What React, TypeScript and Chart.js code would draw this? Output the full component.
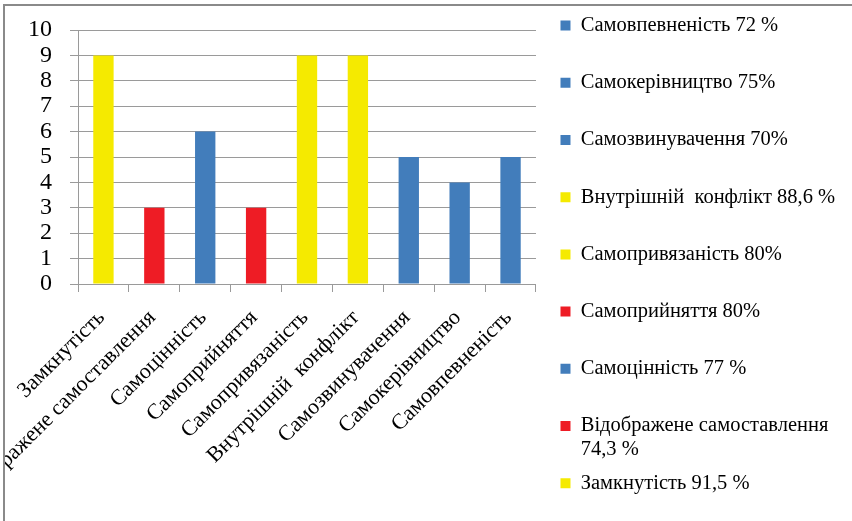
import React, { useEffect, useRef } from "react";
import { Chart, registerables } from "chart.js";

Chart.register(...registerables);

const categories = [
  "Замкнутість",
  "Відображене самоставлення",
  "Самоцінність",
  "Самоприйняття",
  "Самопривязаність",
  "Внутрішній  конфлікт",
  "Самозвинувачення",
  "Самокерівництво",
  "Самовпевненість",
];

const values = [9, 3, 6, 3, 9, 9, 5, 4, 5];

const legendLabels: string[][] = [
  ["Замкнутість 91,5 %", ""],
  ["Відображене самоставлення", "74,3 %"],
  ["Самоцінність 77 %", ""],
  ["Самоприйняття 80%", ""],
  ["Самопривязаність 80%", ""],
  ["Внутрішній  конфлікт 88,6 %", ""],
  ["Самозвинувачення 70%", ""],
  ["Самокерівництво 75%", ""],
  ["Самовпевненість 72 %", ""],
];

const YELLOW = "#F5EA00";
const RED = "#EE1C25";
const BLUE = "#427DBB";
const barColors = [YELLOW, RED, BLUE, RED, YELLOW, YELLOW, BLUE, BLUE, BLUE];

const yTicks = { min: 0, max: 10, step: 1 };

const FONT = "'Liberation Serif', 'Times New Roman', serif";
const GRID = "#9a9a9a";

export default function App() {
  const ref = useRef<HTMLCanvasElement | null>(null);

  useEffect(() => {
    if (!ref.current) return;
    const chart = new Chart(ref.current, {
      type: "bar",
      data: {
        labels: categories,
        datasets: [
          {
            data: values,
            backgroundColor: barColors,
            borderWidth: 0,
            categoryPercentage: 1,
            barPercentage: 0.4,
          },
        ],
      },
      options: {
        responsive: false,
        animation: false,
        events: [],
        layout: { padding: { left: 0, top: 0, right: 6.85, bottom: 0 } },
        scales: {
          x: {
            type: "category",
            grid: {
              display: true,
              drawOnChartArea: false,
              drawTicks: true,
              tickLength: 8,
              color: GRID,
              offset: true,
            },
            border: { color: GRID, width: 1 },
            ticks: {
              autoSkip: false,
              maxRotation: 45,
              minRotation: 45,
              padding: 13,
              labelOffset: -2,
              color: "#000",
              font: { family: FONT, size: 22 },
            },
            afterFit: (s: any) => {
              s.height = 257;
            },
          },
          y: {
            min: yTicks.min,
            max: yTicks.max,
            grid: { color: GRID, tickLength: 8, drawTicks: true },
            border: { color: GRID, width: 1 },
            ticks: {
              stepSize: yTicks.step,
              autoSkip: false,
              padding: 18,
              color: "#000",
              font: { family: FONT, size: 24, lineHeight: 0.5 },
            },
            afterFit: (s: any) => {
              s.width = 73;
            },
          },
          y2: {
            type: "linear",
            position: "right",
            display: true,
            grid: { display: false, drawTicks: false },
            border: { display: false },
            ticks: { display: false },
            afterFit: (s: any) => {
              s.width = 15.25;
            },
          },
        },
        plugins: {
          tooltip: { enabled: false },
          title: { display: false },
          legend: {
            display: true,
            position: "right",
            align: "start",
            maxWidth: 400,
            labels: {
              boxWidth: 10,
              boxHeight: 10,
              padding: 9.25,
              color: "#000",
              font: { family: FONT, size: 20.5, lineHeight: 1.17 },
              generateLabels: () =>
                legendLabels.map((t, i) => ({
                  text: t as any,
                  fillStyle: barColors[i],
                  strokeStyle: barColors[i],
                  lineWidth: 0,
                  hidden: false,
                  index: i,
                  datasetIndex: 0,
                  fontColor: "#000",
                })),
            },
            reverse: true,
          },
        },
      },
    });
    return () => chart.destroy();
  }, []);

  return (
    <div
      style={{
        position: "fixed",
        left: 0,
        top: 0,
        width: 852,
        height: 521,
        overflow: "hidden",
        background: "#fff",
      }}
    >
      <canvas
        ref={ref}
        width={847}
        height={535}
        style={{ position: "absolute", left: 5, top: 6 }}
      />
      <div
        style={{
          position: "absolute",
          left: 3,
          top: 4,
          right: 0,
          bottom: 0,
          borderTop: "2px solid #8a8a8a",
          borderLeft: "2px solid #8a8a8a",
          pointerEvents: "none",
        }}
      />
    </div>
  );
}
